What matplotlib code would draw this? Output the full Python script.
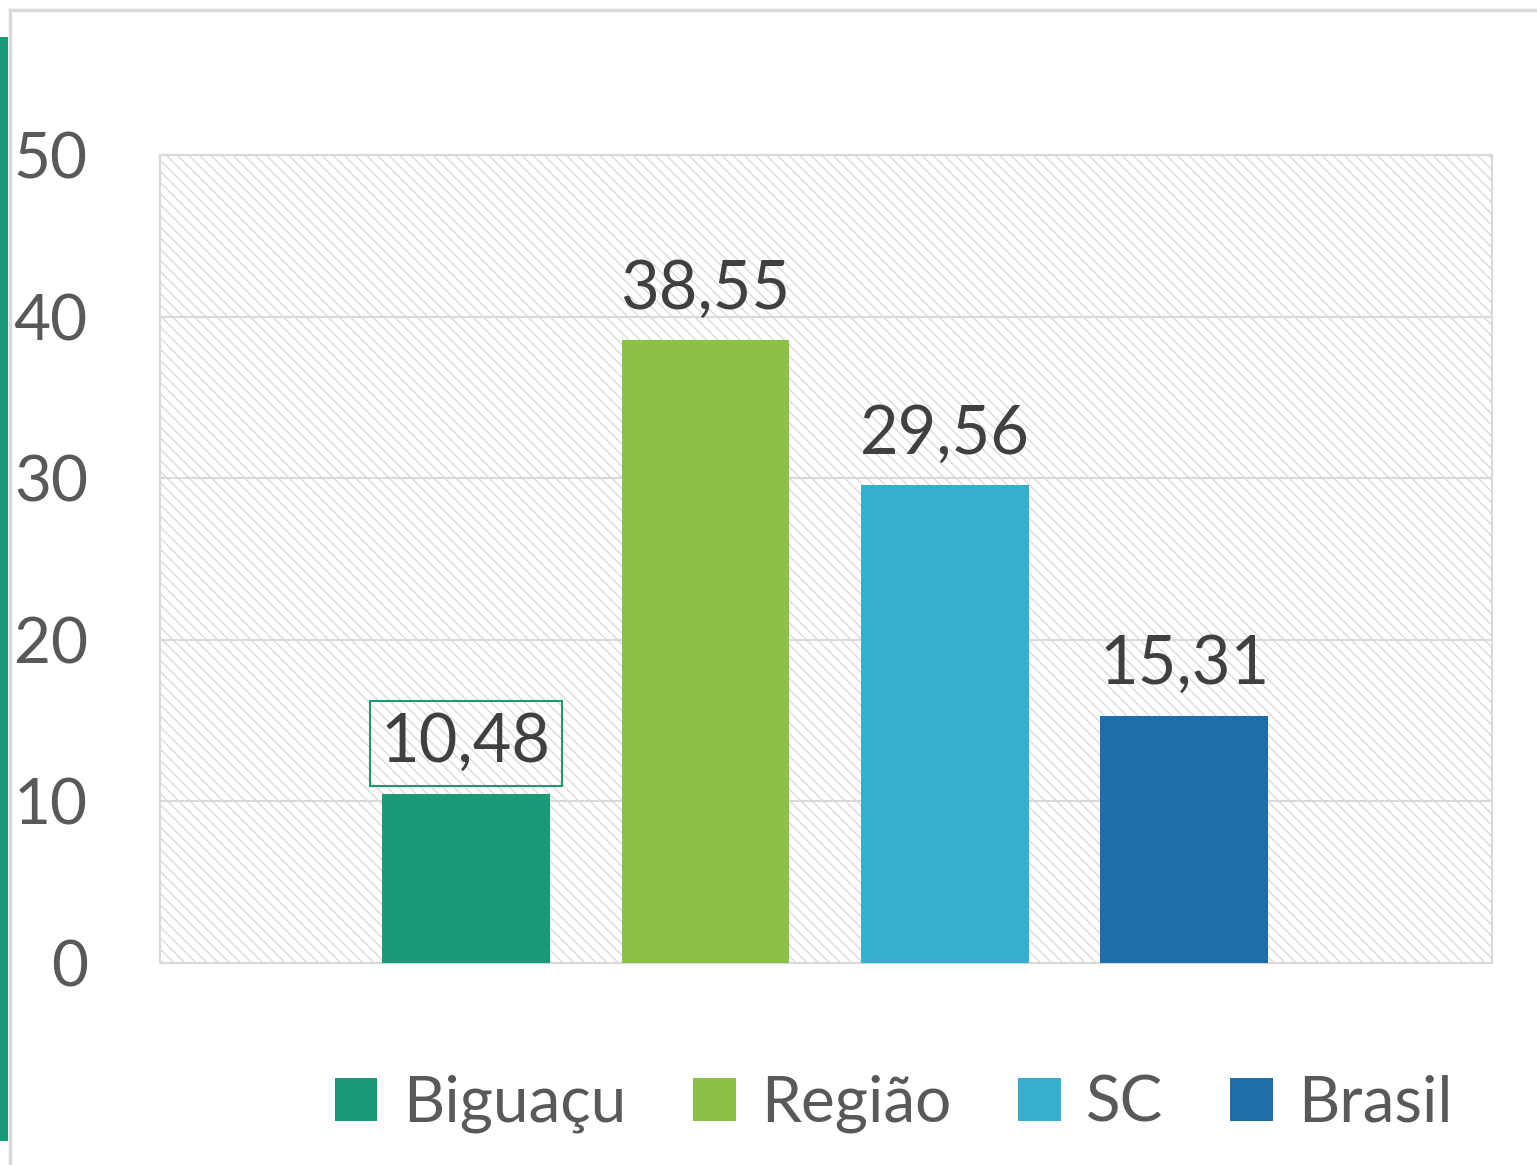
import matplotlib
matplotlib.use("Agg")
import matplotlib.pyplot as plt
from matplotlib.patches import Rectangle
from matplotlib.lines import Line2D

plt.rcParams['font.family'] = ['Lato', 'DejaVu Sans']
plt.rcParams['hatch.linewidth'] = 1.0

series = ["Biguaçu", "Região", "SC", "Brasil"]
values = [10.48, 38.55, 29.56, 15.31]
labels = ["10,48", "38,55", "29,56", "15,31"]
colors = ["#1c9a78", "#8dc046", "#37aecf", "#1e6ea9"]
yticks = [0, 10, 20, 30, 40, 50]

W, H = 1537, 1165
fig = plt.figure(figsize=(W / 100, H / 100), dpi=100)

# frame and left accent
fig.add_artist(Line2D([9.5 / W, 9.5 / W], [0, 1 - 10 / H], transform=fig.transFigure,
                      color="#d9d9d9", lw=2.5))
fig.add_artist(Line2D([9.5 / W, 1], [1 - 10 / H, 1 - 10 / H], transform=fig.transFigure,
                      color="#d9d9d9", lw=2.5))
fig.add_artist(Rectangle((0, 1 - 1141 / H), 8 / W, (1141 - 37) / H, transform=fig.transFigure,
                         facecolor="#1c9a78", edgecolor="none"))

ax = fig.add_axes([160 / W, 1 - 963 / H, (1492 - 160) / W, (963 - 155) / H])
ax.patch.set_facecolor("none")
ax.add_patch(Rectangle((0, 0), 1, 1, transform=ax.transAxes, facecolor="white",
                       edgecolor="#dadada", hatch="\\\\\\", lw=0, zorder=0))

x = list(range(len(series)))
bars = ax.bar(x, values, width=0.70, color=colors, zorder=3)

ax.set_xlim(-1.278, 4.286)
ax.set_ylim(0, 50)
ax.set_yticks(yticks)
ax.set_yticklabels([str(t) for t in yticks], fontsize=46, color="#595959")
ax.tick_params(axis="y", length=0, pad=52)
ax.set_xticks([])
ax.grid(axis="y", color="#d9d9d9", lw=1.5, zorder=1)
for s in ax.spines.values():
    s.set_color("#d9d9d9")
    s.set_linewidth(1.5)

for i, (b, lab) in enumerate(zip(bars, labels)):
    kw = {}
    if i == 0:
        kw["bbox"] = dict(boxstyle="square,pad=0.17", facecolor="none",
                          edgecolor="#1c9a78", lw=1.5)
    ax.annotate(lab, (b.get_x() + b.get_width() / 2, b.get_height()),
                xytext=(0, 14), textcoords="offset points", ha="center", va="bottom",
                fontsize=48, color="#404040", zorder=5, **kw)

handles = [Rectangle((0, 0), 1, 1, facecolor=c, edgecolor="none") for c in colors]
fig.legend(handles, series, loc="center", bbox_to_anchor=(894 / W, 1 - 1104 / H),
           ncol=4, frameon=False, fontsize=46, labelcolor="#595959",
           handlelength=0.66, handleheight=0.66, handletextpad=0.4, columnspacing=1.05)

fig.savefig("out.png", dpi=100)
